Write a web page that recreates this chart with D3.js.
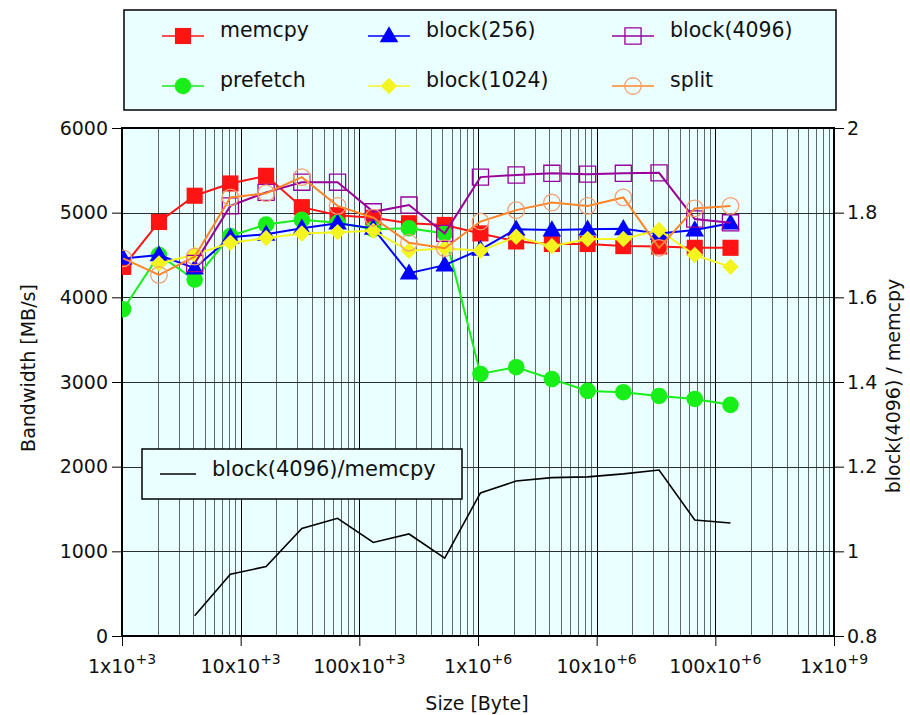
<!DOCTYPE html>
<meta charset="utf-8">
<script src="https://d3js.org/d3.v7.min.js"></script>
<style>
  body { margin: 0; background: #fff; }
  text { font-family: "DejaVu Sans", sans-serif; fill: #111; }
</style>
<div id="chart"></div>
<script>

// sizes in bytes (2^10 .. 2^27)
var sizes = [1024, 2048, 4096, 8192, 16384, 32768, 65536, 131072, 262144, 524288,
             1048576, 2097152, 4194304, 8388608, 16777216, 33554432, 67108864, 134217728];

var memcpy   = [4360, 4890, 5200, 5345, 5435, 5065, 4970, 4940, 4875, 4855,
                4755, 4660, 4630, 4630, 4605, 4600, 4585, 4585];
var prefetch = [3860, 4500, 4210, 4725, 4860, 4915, 4880, 4805, 4815, 4755,
                3095, 3175, 3035, 2895, 2880, 2835, 2800, 2730];
var block256 = [4460, 4500, 4345, 4710, 4745, 4815, 4875, 4815, 4285, 4380,
                4565, 4805, 4795, 4805, 4810, 4755, 4795, 4875];
var block1024 = [null, 4400, 4505, 4645, 4700, 4755, 4770, 4785, 4550, 4580,
                 4550, 4715, 4605, 4690, 4690, 4795, 4500, 4360];
var block4096 = [null, null, 4400, 5080, 5240, 5360, 5360, 5010, 5090, 4755,
                 5420, 5445, 5465, 5455, 5465, 5470, 4925, 4880];
var split    = [4460, 4265, 4480, 5180, 5230, 5420, 5080, 4940, 4645, 4580,
                4895, 5030, 5120, 5080, 5180, 4585, 5050, 5080];

// ratio block(4096)/memcpy (right axis)
var ratio = [null, null, 0.848, 0.946, 0.964, 1.054, 1.078, 1.021, 1.041, 0.984,
             1.138, 1.166, 1.174, 1.176, 1.183, 1.192, 1.074, 1.067];

var xTickValues = [1e3, 1e4, 1e5, 1e6, 1e7, 1e8, 1e9];
var xTickBase = ["1x10", "10x10", "100x10", "1x10", "10x10", "100x10", "1x10"];
var xTickExp  = ["+3", "+3", "+3", "+6", "+6", "+6", "+9"];
var yLeftTicks  = [0, 1000, 2000, 3000, 4000, 5000, 6000];
var yRightTicks = [0.8, 1, 1.2, 1.4, 1.6, 1.8, 2];

var series = [
  {name: "memcpy",      values: memcpy,    color: "#ff1414", mark: "square",   fill: true},
  {name: "prefetch",    values: prefetch,  color: "#18ee18", mark: "circle",   fill: true},
  {name: "block(256)",  values: block256,  color: "#0000ff", mark: "triangle", fill: true},
  {name: "block(1024)", values: block1024, color: "#f4f420", mark: "diamond",  fill: true},
  {name: "block(4096)", values: block4096, color: "#990099", mark: "square",   fill: false},
  {name: "split",       values: split,     color: "#ff8426", mark: "circle",   fill: false, mcolor: "#f2a070"}
];

var W = 910, H = 715;
var L = 122, R = 834, T = 128, B = 636;
var bg = "#eaffff";

var svg = d3.select("#chart").append("svg")
  .attr("width", W).attr("height", H);

var x = d3.scaleLog().domain([1e3, 1e9]).range([L, R]);
var y = d3.scaleLinear().domain([0, 6000]).range([B, T]);
var y2 = d3.scaleLinear().domain([0.8, 2]).range([B, T]);

// plot background
svg.append("rect").attr("x", L).attr("y", T).attr("width", R - L).attr("height", B - T)
  .attr("fill", bg);

// vertical grid
var grid = svg.append("g");
grid.selectAll(".vg").data(x.ticks()).enter().append("line")
  .attr("x1", function(d) { return Math.round(x(d)) + 0.5; })
  .attr("x2", function(d) { return Math.round(x(d)) + 0.5; })
  .attr("y1", T).attr("y2", B)
  .attr("stroke", function(d) {
    var k = d / Math.pow(10, Math.round(Math.log10(d)));
    return Math.abs(k - 1) < 1e-6 ? "#000" : "#5e6868";
  })
  .attr("stroke-width", 1);

// horizontal grid
grid.selectAll(".hg").data(yLeftTicks.slice(1, -1)).enter().append("line")
  .attr("x1", L).attr("x2", R)
  .attr("y1", function(d) { return Math.round(y(d)) + 0.5; })
  .attr("y2", function(d) { return Math.round(y(d)) + 0.5; })
  .attr("stroke", "#2a3030").attr("stroke-width", 1);

// axes
var axL = svg.append("g").attr("transform", "translate(" + L + ",0)")
  .call(d3.axisLeft(y).tickValues(yLeftTicks).tickSize(10).tickPadding(4)
    .tickFormat(d3.format("d")));
var axR = svg.append("g").attr("transform", "translate(" + R + ",0)")
  .call(d3.axisRight(y2).tickValues(yRightTicks).tickSize(10).tickPadding(3)
    .tickFormat(function(d) { return String(+d.toFixed(1)); }));
var axB = svg.append("g").attr("transform", "translate(0," + B + ")")
  .call(d3.axisBottom(x).tickValues(xTickValues).tickSize(10).tickFormat(""));

[axL, axR, axB].forEach(function(a) {
  a.attr("font-size", 19);
  a.select(".domain").remove();
  a.selectAll(".tick line").attr("stroke", "#000");
  a.selectAll(".tick text").attr("font-size", 19).attr("fill", "#111")
    .style("font-family", "DejaVu Sans, sans-serif");
});

// x tick labels with superscript exponent
var xl = svg.append("g").selectAll("text").data(xTickValues).enter().append("text")
  .attr("x", function(d) { return x(d); })
  .attr("y", 673)
  .attr("text-anchor", "middle")
  .attr("font-size", 19);
xl.append("tspan").text(function(d, i) { return xTickBase[i]; });
xl.append("tspan").attr("dy", -9).attr("font-size", 14).text(function(d, i) { return xTickExp[i]; });

// frame
svg.append("rect").attr("x", L).attr("y", T).attr("width", R - L).attr("height", B - T)
  .attr("fill", "none").attr("stroke", "#000").attr("stroke-width", 2);

// axis titles
svg.append("text").attr("x", 477).attr("y", 710).attr("text-anchor", "middle")
  .attr("font-size", 19).text("Size [Byte]");
svg.append("text").attr("transform", "translate(35,368) rotate(-90)")
  .attr("text-anchor", "middle").attr("font-size", 19).text("Bandwidth [MB/s]");
svg.append("text").attr("transform", "translate(900,386) rotate(-90)")
  .attr("text-anchor", "middle").attr("font-size", 19).text("block(4096) / memcpy");

// marker shapes
function markPath(kind) {
  if (kind === "square") return d3.symbol().type(d3.symbolSquare).size(260)();
  if (kind === "circle") return d3.symbol().type(d3.symbolCircle).size(215)();
  if (kind === "triangle") return d3.symbol().type(d3.symbolTriangle).size(150)();
  if (kind === "diamond") return d3.symbol().type(d3.symbolSquare).size(135)();
}
function drawMark(g, s, cx, cy) {
  var p = g.append("path").attr("d", markPath(s.mark))
    .attr("transform", "translate(" + cx + "," + cy + ")" + (s.mark === "diamond" ? " rotate(45)" : "") +
      (s.mark === "triangle" ? " translate(0,1)" : ""));
  if (s.fill) p.attr("fill", s.color).attr("stroke", "none");
  else p.attr("fill", "none").attr("stroke", s.mcolor || s.color).attr("stroke-width", 1.3);
}

// clip
svg.append("clipPath").attr("id", "clip").append("rect")
  .attr("x", L).attr("y", T).attr("width", R - L).attr("height", B - T);
var plot = svg.append("g").attr("clip-path", "url(#clip)");

// ratio line
var rline = d3.line()
  .defined(function(d) { return d != null; })
  .x(function(d, i) { return x(sizes[i]); })
  .y(function(d) { return y2(d); });
plot.append("path").datum(ratio).attr("d", rline)
  .attr("fill", "none").attr("stroke", "#000").attr("stroke-width", 1.6);

// bandwidth lines + markers
var bline = d3.line()
  .defined(function(d) { return d != null; })
  .x(function(d, i) { return x(sizes[i]); })
  .y(function(d) { return y(d); });

series.forEach(function(s) {
  var g = plot.append("g");
  g.append("path").datum(s.values).attr("d", bline)
    .attr("fill", "none").attr("stroke", s.color).attr("stroke-width", 2);
  s.values.forEach(function(v, i) {
    if (v == null) return;
    drawMark(g, s, x(sizes[i]), y(v));
  });
});

// main legend
var lg = svg.append("g");
lg.append("rect").attr("x", 124).attr("y", 10).attr("width", 712).attr("height", 100)
  .attr("fill", bg).attr("stroke", "#000").attr("stroke-width", 1.5);
var colX = [162, 368, 612];
var rowY = [36, 86];
var order = [0, 2, 4, 1, 3, 5];
order.forEach(function(si, k) {
  var s = series[si];
  var cx = colX[k % 3], cy = rowY[Math.floor(k / 3)];
  lg.append("line").attr("x1", cx).attr("x2", cx + 42).attr("y1", cy).attr("y2", cy)
    .attr("stroke", s.color).attr("stroke-width", 1.5);
  drawMark(lg, s, cx + 21, cy);
  lg.append("text").attr("x", cx + 58).attr("y", cy + 1).attr("font-size", 20.5).text(s.name);
});

// ratio legend
var lg2 = svg.append("g");
lg2.append("rect").attr("x", 142).attr("y", 449).attr("width", 320).attr("height", 50)
  .attr("fill", bg).attr("stroke", "#000").attr("stroke-width", 1.5);
lg2.append("line").attr("x1", 160).attr("x2", 196).attr("y1", 474).attr("y2", 474)
  .attr("stroke", "#000").attr("stroke-width", 1.5);
lg2.append("text").attr("x", 212).attr("y", 476).attr("font-size", 21).text("block(4096)/memcpy");

</script>
